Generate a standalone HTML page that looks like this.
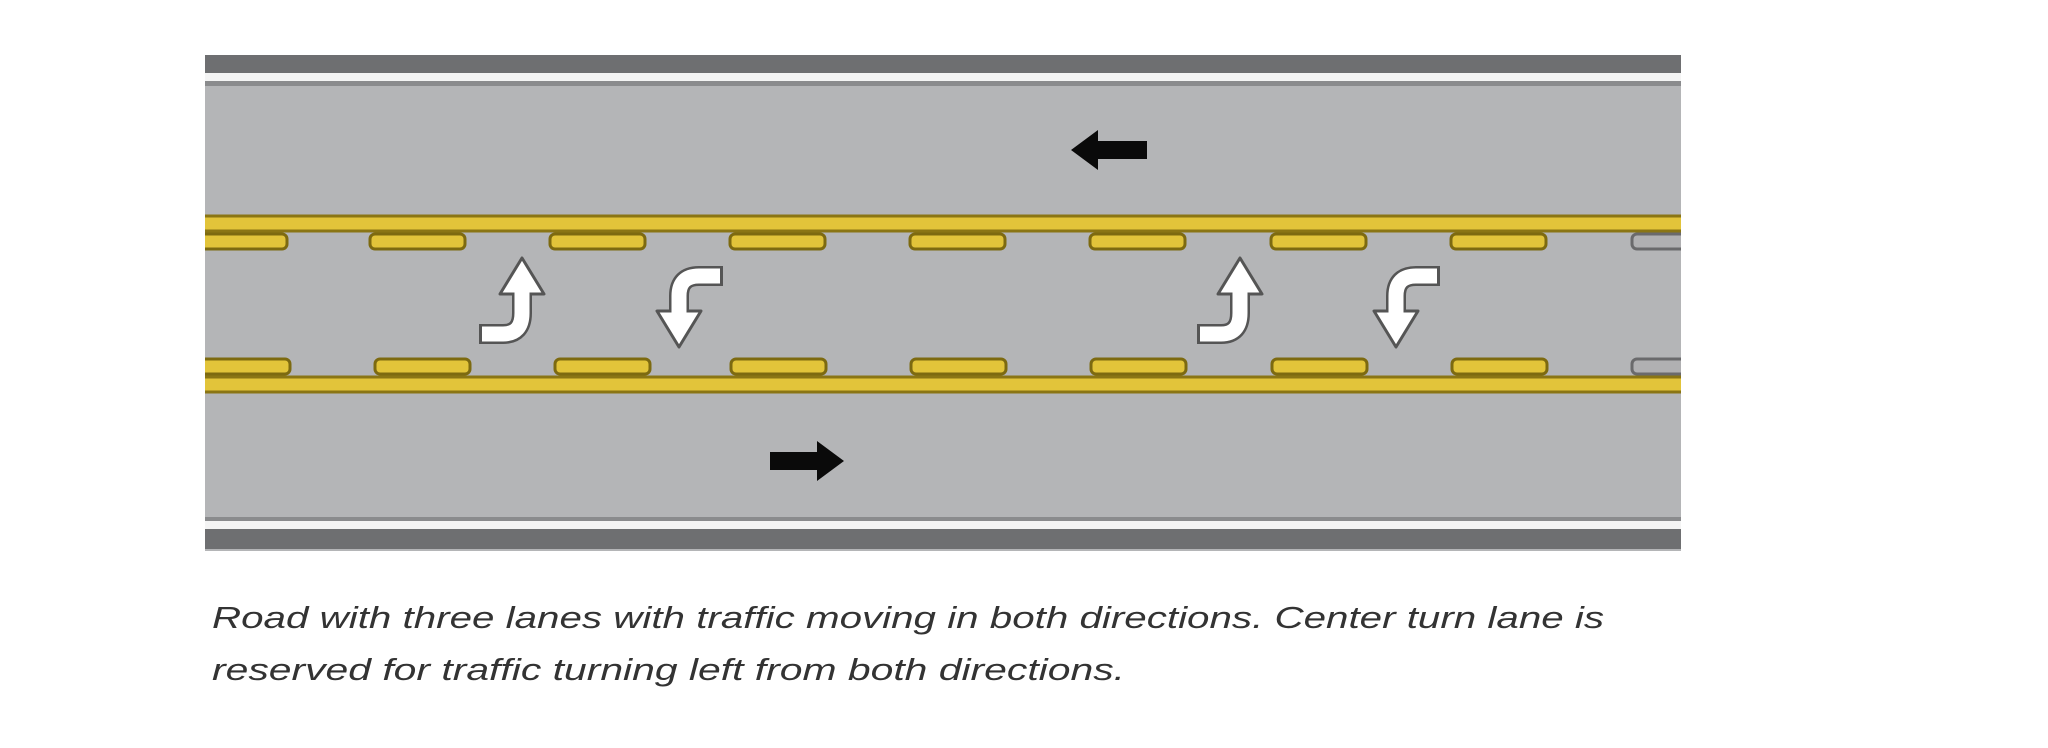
<!DOCTYPE html>
<html><head><meta charset="utf-8"><style>
html,body{margin:0;padding:0;background:#fff;}
svg{display:block;}
</style></head><body>
<svg width="2048" height="748" viewBox="0 0 2048 748" xmlns="http://www.w3.org/2000/svg">
<defs>
<clipPath id="road"><rect x="205" y="55" width="1476" height="496"/></clipPath>
<g id="turnUp">
  <path d="M6,76 L30,76 Q49,76 49,55 L49,30" fill="none" stroke="#555" stroke-width="20" stroke-linejoin="round"/>
  <polygon points="49,0 71,36 27,36" fill="#fff" stroke="#555" stroke-width="3" stroke-linejoin="round"/>
  <path d="M9,76 L30,76 Q49,76 49,55 L49,33" fill="none" stroke="#fff" stroke-width="15" stroke-linejoin="round"/>
</g>
<g id="turnDown">
  <path d="M74,10 L50,10 Q30,10 30,30 L30,50" fill="none" stroke="#555" stroke-width="20" stroke-linejoin="round"/>
  <polygon points="30,81 8,45 52,45" fill="#fff" stroke="#555" stroke-width="3" stroke-linejoin="round"/>
  <path d="M71,10 L50,10 Q30,10 30,30 L30,48" fill="none" stroke="#fff" stroke-width="15" stroke-linejoin="round"/>
</g>
<g id="dash"><rect x="0" y="0" width="95" height="15" rx="5" fill="#e2c43a" stroke="#7d6a10" stroke-width="3"/></g>
<g id="gdash"><rect x="0" y="0" width="80" height="15" rx="5" fill="#b0b0b2" stroke="#6a6a6c" stroke-width="3"/></g>
</defs>
<g clip-path="url(#road)">
<rect x="205" y="55" width="1476" height="496" fill="#b4b5b7"/>
<rect x="205" y="55" width="1476" height="18" fill="#6e6f71"/>
<rect x="205" y="73" width="1476" height="8" fill="#f4f4f4"/>
<rect x="205" y="81" width="1476" height="5" fill="#8a8b8d"/>
<rect x="205" y="517" width="1476" height="4" fill="#8a8b8d"/>
<rect x="205" y="521" width="1476" height="8" fill="#f4f4f4"/>
<rect x="205" y="529" width="1476" height="20" fill="#6e6f71"/>
<rect x="200" y="216" width="1490" height="15" fill="#e2c43a" stroke="#8a7514" stroke-width="3"/>
<rect x="200" y="377" width="1490" height="15" fill="#e2c43a" stroke="#8a7514" stroke-width="3"/>
<rect x="195" y="234" width="92" height="15" rx="5" fill="#e2c43a" stroke="#7d6a10" stroke-width="3"/>
<use href="#dash" x="370" y="234"/><use href="#dash" x="550" y="234"/><use href="#dash" x="730" y="234"/>
<use href="#dash" x="910" y="234"/><use href="#dash" x="1090" y="234"/><use href="#dash" x="1271" y="234"/>
<use href="#dash" x="1451" y="234"/><use href="#gdash" x="1632" y="234"/>
<rect x="195" y="359" width="95" height="15" rx="5" fill="#e2c43a" stroke="#7d6a10" stroke-width="3"/>
<use href="#dash" x="375" y="359"/><use href="#dash" x="555" y="359"/><use href="#dash" x="731" y="359"/>
<use href="#dash" x="911" y="359"/><use href="#dash" x="1091" y="359"/><use href="#dash" x="1272" y="359"/>
<use href="#dash" x="1452" y="359"/><use href="#gdash" x="1632" y="359"/>
</g>
<polygon points="1071,150 1098,130 1098,141 1147,141 1147,159 1098,159 1098,170" fill="#0a0a0a"/>
<polygon points="844,461 817,441 817,452 770,452 770,470 817,470 817,481" fill="#0a0a0a"/>
<use href="#turnUp" x="473" y="258"/>
<use href="#turnUp" x="1191" y="258"/>
<use href="#turnDown" x="649" y="266"/>
<use href="#turnDown" x="1366" y="266"/>
<text x="212" y="628" font-family="Liberation Sans, sans-serif" font-style="italic" font-size="31" fill="#333" textLength="1392" lengthAdjust="spacingAndGlyphs">Road with three lanes with traffic moving in both directions. Center turn lane is</text>
<text x="212" y="680" font-family="Liberation Sans, sans-serif" font-style="italic" font-size="31" fill="#333" textLength="913" lengthAdjust="spacingAndGlyphs">reserved for traffic turning left from both directions.</text>
</svg>
</body></html>
